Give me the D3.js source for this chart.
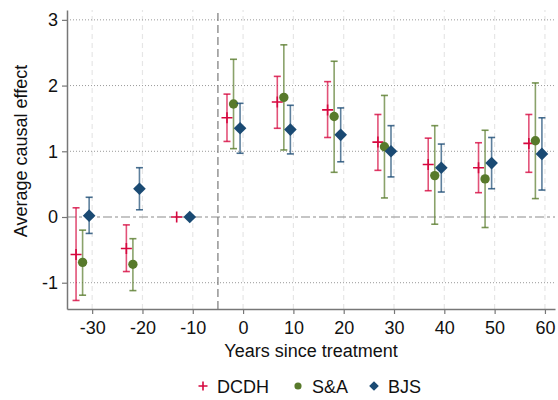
<!DOCTYPE html>
<html>
<head>
<meta charset="utf-8">
<script src="https://cdn.jsdelivr.net/npm/d3@7"></script>
<style>
  body { margin: 0; background: #fff; }
  text { font-family: "Liberation Sans", Arial, sans-serif; fill: #111; }
</style>
</head>
<body>
<div id="container"></div>
<script>
// Data
var periods = [-30, -20, -10, 0, 10, 20, 30, 40, 50, 60];
var estimators = ["DCDH", "S&A", "BJS"];

var dcdhEst = [-0.57, -0.48, 0, 1.51, 1.75, 1.63, 1.14, 0.80, 0.75, 1.12];
var dcdhLo  = [-1.27, -0.83, 0, 1.15, 1.35, 1.21, 0.71, 0.40, 0.37, 0.68];
var dcdhHi  = [0.14, -0.12, 0, 1.87, 2.14, 2.06, 1.56, 1.20, 1.13, 1.56];

var saEst = [-0.69, -0.72, null, 1.72, 1.82, 1.53, 1.07, 0.63, 0.58, 1.16];
var saLo  = [-1.19, -1.12, null, 1.04, 1.02, 0.68, 0.29, -0.11, -0.16, 0.28];
var saHi  = [-0.20, -0.33, null, 2.40, 2.62, 2.37, 1.85, 1.39, 1.32, 2.04];

var bjsEst = [0.02, 0.43, 0, 1.35, 1.33, 1.25, 1.00, 0.75, 0.82, 0.96];
var bjsLo  = [-0.25, 0.11, 0, 0.97, 0.96, 0.84, 0.61, 0.38, 0.43, 0.41];
var bjsHi  = [0.30, 0.75, 0, 1.73, 1.70, 1.66, 1.39, 1.11, 1.21, 1.51];

var xTicks = [-30, -20, -10, 0, 10, 20, 30, 40, 50, 60];
var yTicks = [-1, 0, 1, 2, 3];

var width = 558,
    height = 400;
var margin = {top: 10, right: 3, bottom: 91, left: 67};

var svg = d3.select("#container")
            .append("svg")
              .attr("width", width)
              .attr("height", height);

var x = d3.scaleLinear()
          .domain([-35, 62])
          .range([margin.left, width - margin.right]);

var y = d3.scaleLinear()
          .domain([-1.4, 3.15])
          .range([height - margin.bottom, margin.top]);

// Gridlines
svg.append("g")
  .selectAll("line")
  .data(xTicks)
  .enter()
  .append("line")
    .attr("x1", function(d) { return x(d); })
    .attr("x2", function(d) { return x(d); })
    .attr("y1", y.range()[0])
    .attr("y2", y.range()[1])
    .attr("stroke", "#e6e6e6")
    .attr("stroke-width", 1.2)
    .attr("stroke-dasharray", "5,4");

svg.append("g")
  .selectAll("line")
  .data(yTicks.filter(function(d) { return d != 0; }))
  .enter()
  .append("line")
    .attr("x1", x.range()[0])
    .attr("x2", x.range()[1])
    .attr("y1", function(d) { return y(d); })
    .attr("y2", function(d) { return y(d); })
    .attr("stroke", "#999")
    .attr("stroke-width", 1)
    .attr("stroke-dasharray", "1,2");

// Zero line and treatment line
svg.append("line")
  .attr("x1", x.range()[0])
  .attr("x2", x.range()[1])
  .attr("y1", y(0))
  .attr("y2", y(0))
  .attr("stroke", "#8c8c8c")
  .attr("stroke-width", 1.2)
  .attr("stroke-dasharray", "9,3,3,3");

svg.append("line")
  .attr("x1", x(-5))
  .attr("x2", x(-5))
  .attr("y1", y.range()[0])
  .attr("y2", y.range()[1])
  .attr("stroke", "#7a7a7a")
  .attr("stroke-width", 1.2)
  .attr("stroke-dasharray", "8,4");

// Axes
var xAxis = svg.append("g")
  .attr("transform", "translate(0," + y.range()[0] + ")")
  .call(d3.axisBottom(x).tickValues(xTicks).tickSize(5).tickPadding(7).tickSizeOuter(0)
        .tickFormat(function(d) { return d; }));

var yAxis = svg.append("g")
  .attr("transform", "translate(" + x.range()[0] + ",0)")
  .call(d3.axisLeft(y).tickValues(yTicks).tickSize(5).tickPadding(4).tickSizeOuter(0)
        .tickFormat(function(d) { return d; }));

[xAxis, yAxis].forEach(function(a) {
  a.select(".domain").attr("stroke", "#777").attr("stroke-width", 1.5);
  a.selectAll(".tick line").attr("stroke", "#777").attr("stroke-width", 1.2);
  a.selectAll(".tick text").style("font-size", "18px").attr("fill", "#111");
});

svg.append("text")
  .attr("x", (x.range()[0] + x.range()[1]) / 2)
  .attr("y", 357)
  .style("text-anchor", "middle")
  .style("font-size", "18px")
  .text("Years since treatment");

svg.append("text")
  .attr("transform", "translate(27,151) rotate(-90)")
  .style("text-anchor", "middle")
  .style("font-size", "18px")
  .text("Average causal effect");

// Series
var series = [
  {name: "DCDH", est: dcdhEst, lo: dcdhLo, hi: dcdhHi, offset: -3.2, color: "#d6083f", shape: "plus"},
  {name: "S&A", est: saEst, lo: saLo, hi: saHi, offset: -1.9, color: "#587a2b", shape: "circle"},
  {name: "BJS", est: bjsEst, lo: bjsLo, hi: bjsHi, offset: -0.6, color: "#1a4a73", shape: "diamond"}
];

function drawMarker(g, shape, color, size) {
  if (shape == "plus") {
    g.append("path")
      .attr("d", "M" + (-size) + ",0H" + size + "M0," + (-size) + "V" + size)
      .attr("stroke", color)
      .attr("stroke-width", 1.6)
      .attr("fill", "none");
  } else if (shape == "circle") {
    g.append("circle")
      .attr("r", size * 0.85)
      .attr("fill", color);
  } else {
    var s = size * 1.15;
    g.append("path")
      .attr("d", "M0," + (-s) + "L" + s + ",0L0," + s + "L" + (-s) + ",0Z")
      .attr("fill", color);
  }
}

series.forEach(function(s) {
  var pts = periods.map(function(p, i) {
    return {t: p + s.offset, est: s.est[i], lo: s.lo[i], hi: s.hi[i]};
  }).filter(function(d) { return d.est !== null; });

  var g = svg.append("g");

  // Confidence intervals
  pts.filter(function(d) { return d.hi > d.lo; }).forEach(function(d) {
    var cx = x(d.t);
    g.append("line")
      .attr("x1", cx).attr("x2", cx)
      .attr("y1", y(d.lo)).attr("y2", y(d.hi))
      .attr("stroke", s.color)
      .attr("stroke-width", 1.6)
      .attr("stroke-opacity", 0.7);
    [d.lo, d.hi].forEach(function(v) {
      g.append("line")
        .attr("x1", cx - 3.5).attr("x2", cx + 3.5)
        .attr("y1", y(v)).attr("y2", y(v))
        .attr("stroke", s.color)
        .attr("stroke-width", 1.6)
        .attr("stroke-opacity", 0.8);
    });
  });

  // Point estimates
  pts.forEach(function(d) {
    var m = g.append("g").attr("transform", "translate(" + x(d.t) + "," + y(d.est) + ")");
    drawMarker(m, s.shape, s.color, 5.5);
  });
});

// Legend
var legendX = [203, 298, 374];
series.forEach(function(s, i) {
  var lg = svg.append("g").attr("transform", "translate(" + legendX[i] + ",386)");
  drawMarker(lg, s.shape, s.color, s.shape == "plus" ? 4.5 : 4.2);
  lg.append("text")
    .attr("x", 14)
    .attr("y", 6.5)
    .style("font-size", "18px")
    .text(s.name);
});
</script>
</body>
</html>
